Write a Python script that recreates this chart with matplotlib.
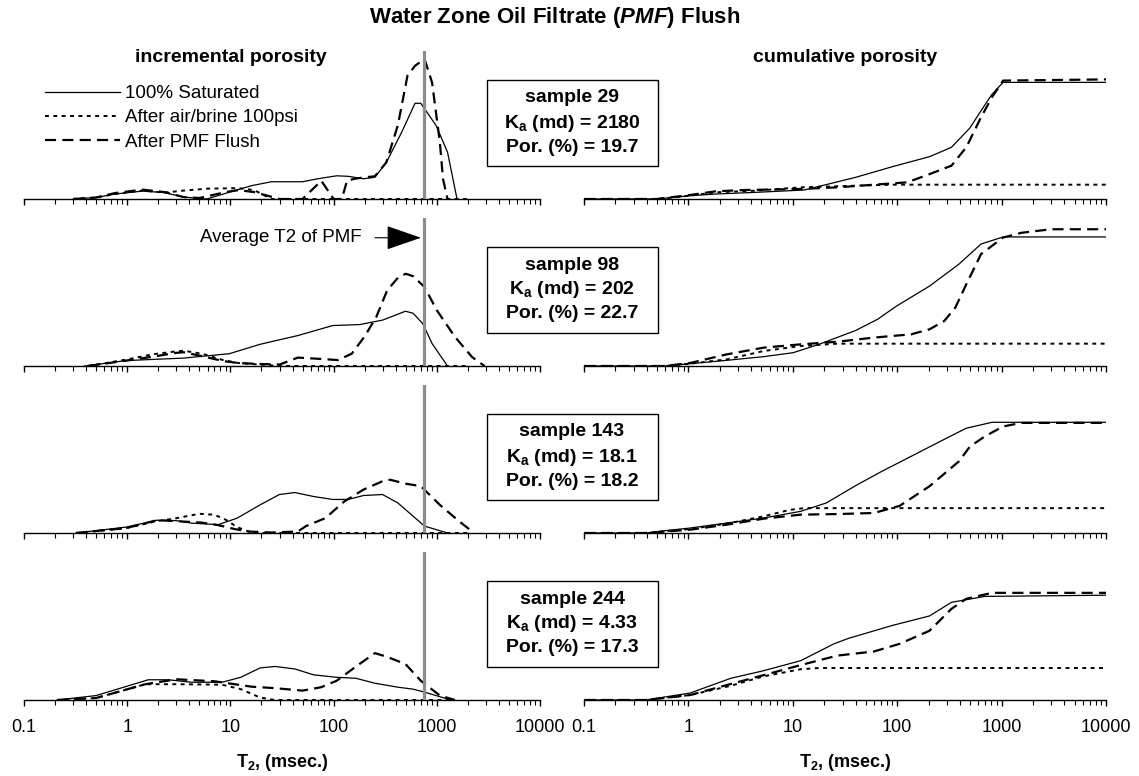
import matplotlib.pyplot as plt
import matplotlib.patches as patches
from matplotlib.ticker import LogLocator, FuncFormatter, NullFormatter

plt.rcParams['font.family'] = ['Liberation Sans', 'DejaVu Sans']
plt.rcParams['mathtext.fontset'] = 'custom'
plt.rcParams['mathtext.rm'] = 'Liberation Sans'
plt.rcParams['mathtext.it'] = 'Liberation Sans:italic'
plt.rcParams['mathtext.bf'] = 'Liberation Sans:bold'
plt.rcParams['mathtext.bfit'] = 'Liberation Sans:italic:bold'

# --- sample info ---
sample_ids = ['29', '98', '143', '244']
ka_md = ['2180', '202', '18.1', '4.33']
por_pct = ['19.7', '22.7', '18.2', '17.3']
avg_t2_pmf = 750

# --- incremental porosity (T2 in msec, p.u.) ---
s29_inc_sat_t = [0.3, 0.5, 0.76, 1.4, 2.3, 3.5, 5.9, 11, 16, 25, 50, 70, 107, 138, 195, 251, 324, 456, 615, 700, 984, 1270, 1570]
s29_inc_sat_v = [0, 0.03, 0.10, 0.16, 0.13, 0.04, 0.0, 0.17, 0.27, 0.35, 0.35, 0.41, 0.47, 0.46, 0.41, 0.44, 0.74, 1.35, 1.94, 1.94, 1.49, 0.95, 0]
s29_inc_air_t = [0.3, 0.5, 0.76, 1.4, 2.3, 3.5, 6, 12, 17, 25, 100, 1000, 2000]
s29_inc_air_v = [0, 0.03, 0.10, 0.17, 0.13, 0.17, 0.21, 0.22, 0.18, 0.0, 0, 0, 0]
s29_inc_pmf_t = [0.3, 0.5, 0.76, 1.4, 2.3, 3.5, 5, 9, 12, 17, 30, 50, 76, 100, 120, 135, 160, 200, 251, 324, 420, 520, 615, 760, 900, 1070, 1150, 1270]
s29_inc_pmf_v = [0, 0.03, 0.12, 0.19, 0.14, 0.04, 0.02, 0.14, 0.18, 0.14, 0, 0, 0.37, 0, 0, 0.37, 0.41, 0.44, 0.46, 0.74, 1.5, 2.5, 2.7, 2.84, 2.36, 1.15, 0.4, 0]

s98_inc_sat_t = [0.385, 0.98, 3.5, 7.0, 9.8, 19.4, 45.6, 98, 179, 298, 497, 589, 730, 903, 1270]
s98_inc_sat_v = [0, 0.11, 0.16, 0.22, 0.25, 0.44, 0.62, 0.82, 0.84, 0.93, 1.11, 1.07, 0.86, 0.45, 0]
s98_inc_air_t = [0.42, 0.98, 1.8, 2.8, 3.5, 5.3, 8.5, 12, 19, 30, 100, 1000, 2000]
s98_inc_air_v = [0, 0.13, 0.24, 0.29, 0.31, 0.25, 0.12, 0.06, 0.03, 0, 0, 0, 0]
s98_inc_pmf_t = [0.42, 0.98, 1.8, 2.8, 3.5, 5.3, 8.5, 12, 20, 30, 45, 80, 110, 150, 200, 260, 330, 420, 500, 590, 760, 1000, 1500, 2200, 2900]
s98_inc_pmf_v = [0, 0.11, 0.19, 0.26, 0.28, 0.2, 0.1, 0.06, 0.04, 0.03, 0.17, 0.14, 0.12, 0.25, 0.6, 1.0, 1.53, 1.79, 1.87, 1.82, 1.6, 1.13, 0.59, 0.18, 0]

s143_inc_sat_t = [0.32, 0.98, 1.95, 3.0, 4.2, 7.6, 11.6, 19.4, 29.8, 42, 64, 98, 138, 195, 298, 419, 590, 760, 1270]
s143_inc_sat_v = [0, 0.12, 0.26, 0.25, 0.2, 0.17, 0.30, 0.57, 0.78, 0.82, 0.74, 0.68, 0.68, 0.76, 0.78, 0.61, 0.34, 0.14, 0]
s143_inc_air_t = [0.32, 0.98, 1.95, 3.0, 5.0, 7.0, 9.0, 11.6, 15, 20, 100, 1000, 2000]
s143_inc_air_v = [0, 0.1, 0.24, 0.3, 0.39, 0.37, 0.27, 0.12, 0.03, 0, 0, 0, 0]
s143_inc_pmf_t = [0.32, 0.98, 1.95, 3.0, 5.3, 7.6, 11, 15, 25, 45, 54, 83, 127, 195, 298, 353, 497, 700, 1070, 1640, 2300]
s143_inc_pmf_v = [0, 0.1, 0.26, 0.24, 0.21, 0.16, 0.08, 0.03, 0.01, 0.03, 0.14, 0.30, 0.64, 0.88, 1.05, 1.08, 1.0, 0.95, 0.57, 0.24, 0]

s244_inc_sat_t = [0.21, 0.5, 1.6, 2.5, 4.2, 8.3, 12.6, 19.4, 27, 42, 64, 107, 165, 251, 419, 589, 760, 1270, 1400]
s244_inc_sat_v = [0, 0.09, 0.41, 0.41, 0.36, 0.36, 0.46, 0.65, 0.68, 0.63, 0.51, 0.46, 0.44, 0.34, 0.26, 0.22, 0.16, 0.02, 0]
s244_inc_air_t = [0.21, 0.5, 1.5, 3.0, 8.3, 12.6, 19.4, 27, 100, 1000, 1500]
s244_inc_air_v = [0, 0.04, 0.32, 0.32, 0.31, 0.22, 0.05, 0, 0, 0, 0]
s244_inc_pmf_t = [0.21, 0.5, 1.5, 3.0, 7, 16, 27, 50, 76, 107, 165, 251, 324, 497, 700, 1072, 1500]
s244_inc_pmf_v = [0, 0.04, 0.32, 0.42, 0.38, 0.27, 0.24, 0.19, 0.26, 0.39, 0.68, 0.95, 0.88, 0.73, 0.39, 0.09, 0]

# --- cumulative porosity (p.u.) ---
s29_cum_sat_t = [0.1, 0.5, 1.04, 1.83, 4.48, 12.9, 40, 90, 204, 331, 497, 635, 810, 1033, 10000]
s29_cum_sat_v = [0, 0, 0.56, 0.84, 1.13, 1.52, 3.66, 5.46, 7.15, 8.73, 12.0, 14.9, 17.7, 19.7, 19.7]
s29_cum_air_t = [0.1, 0.5, 1.04, 1.83, 4.48, 11.9, 40, 90, 10000]
s29_cum_air_v = [0, 0, 0.56, 1.13, 1.41, 1.97, 2.25, 2.42, 2.42]
s29_cum_pmf_t = [0.1, 0.5, 1.04, 1.83, 3.5, 11.9, 26.7, 125, 204, 331, 459, 635, 810, 1033, 10000]
s29_cum_pmf_v = [0, 0, 0.68, 1.3, 1.52, 1.69, 1.97, 2.82, 4.2, 5.63, 8.73, 13.8, 17.2, 20.0, 20.2]

s98_cum_sat_t = [0.1, 0.59, 1.04, 2.34, 5.26, 10.1, 17.8, 40, 65, 98, 204, 390, 635, 1033, 10000]
s98_cum_sat_v = [0, 0, 0.39, 0.96, 1.58, 2.25, 3.66, 6.0, 7.9, 10.1, 13.5, 17.2, 20.6, 21.8, 21.8]
s98_cum_air_t = [0.1, 0.59, 1.04, 2.34, 5.26, 11.9, 26.7, 60, 10000]
s98_cum_air_v = [0, 0, 0.39, 1.13, 2.53, 3.38, 3.77, 3.77, 3.77]
s98_cum_pmf_t = [0.1, 0.59, 1.04, 2.34, 5.26, 11.9, 26.7, 60, 136, 204, 282, 360, 459, 635, 1033, 1550, 2970, 10000]
s98_cum_pmf_v = [0, 0, 0.51, 1.97, 3.1, 3.66, 4.1, 4.8, 5.35, 6.2, 7.6, 9.85, 13.8, 18.9, 21.7, 22.5, 23.1, 23.1]

s143_cum_sat_t = [0.1, 0.39, 0.64, 1.04, 2.34, 5.26, 11.9, 20.9, 40, 71, 136, 260, 459, 810, 10000]
s143_cum_sat_v = [0, 0, 0.45, 0.84, 1.69, 2.53, 3.66, 5.07, 8.0, 10.4, 12.95, 15.5, 17.7, 18.7, 18.7]
s143_cum_air_t = [0.1, 0.39, 1.04, 2.34, 5.26, 9.3, 12.9, 10000]
s143_cum_air_v = [0, 0, 0.68, 1.58, 2.82, 3.9, 4.2, 4.2]
s143_cum_pmf_t = [0.1, 0.39, 1.04, 2.34, 5.26, 11.9, 26.7, 60, 106, 204, 390, 497, 689, 1033, 1550, 10000]
s143_cum_pmf_v = [0, 0, 0.56, 1.41, 2.42, 3.1, 3.2, 3.38, 4.6, 7.9, 12.1, 14.6, 16.3, 18.0, 18.6, 18.6]

s244_cum_sat_t = [0.1, 0.39, 1.04, 2.54, 5.26, 11.9, 24.6, 34, 90, 204, 331, 689, 10000]
s244_cum_sat_v = [0, 0, 1.18, 3.66, 4.95, 6.64, 9.46, 10.4, 12.6, 14.2, 16.5, 17.5, 17.7]
s244_cum_air_t = [0.1, 0.39, 1.04, 2.54, 5.26, 11.9, 17.8, 10000]
s244_cum_air_v = [0, 0, 0.84, 2.4, 4.0, 5.2, 5.4, 5.4]
s244_cum_pmf_t = [0.1, 0.39, 1.04, 2.54, 5.26, 11.9, 26.7, 60, 106, 204, 331, 459, 810, 10000]
s244_cum_pmf_v = [0, 0, 0.84, 2.7, 4.2, 5.9, 7.5, 8.2, 9.5, 11.7, 15.4, 17.1, 18.1, 18.1]

series_labels = ['100% Saturated', 'After air/brine 100psi', 'After PMF Flush']

inc_rows = [
    [(s29_inc_sat_t, s29_inc_sat_v), (s29_inc_air_t, s29_inc_air_v), (s29_inc_pmf_t, s29_inc_pmf_v)],
    [(s98_inc_sat_t, s98_inc_sat_v), (s98_inc_air_t, s98_inc_air_v), (s98_inc_pmf_t, s98_inc_pmf_v)],
    [(s143_inc_sat_t, s143_inc_sat_v), (s143_inc_air_t, s143_inc_air_v), (s143_inc_pmf_t, s143_inc_pmf_v)],
    [(s244_inc_sat_t, s244_inc_sat_v), (s244_inc_air_t, s244_inc_air_v), (s244_inc_pmf_t, s244_inc_pmf_v)],
]
cum_rows = [
    [(s29_cum_sat_t, s29_cum_sat_v), (s29_cum_air_t, s29_cum_air_v), (s29_cum_pmf_t, s29_cum_pmf_v)],
    [(s98_cum_sat_t, s98_cum_sat_v), (s98_cum_air_t, s98_cum_air_v), (s98_cum_pmf_t, s98_cum_pmf_v)],
    [(s143_cum_sat_t, s143_cum_sat_v), (s143_cum_air_t, s143_cum_air_v), (s143_cum_pmf_t, s143_cum_pmf_v)],
    [(s244_cum_sat_t, s244_cum_sat_v), (s244_cum_air_t, s244_cum_air_v), (s244_cum_pmf_t, s244_cum_pmf_v)],
]

# line styles: saturated / air-brine / PMF flush
styles = [
    dict(color='black', lw=0.9, ls='-'),
    dict(color='black', lw=1.4, ls=(0, (2.0, 2.3))),
    dict(color='black', lw=1.6, ls=(0, (5, 2.8))),
]

# --- layout (pixels) ---
W, H = 1139, 776
fig = plt.figure(figsize=(W / 100, H / 100), dpi=100)
baselines = [199, 366, 533, 700]
ax_h = 148
left_x0, left_x1 = 24, 540
right_x0, right_x1 = 584, 1106


def fx(px):
    return px / W


def fy(py):
    return 1 - py / H


def style_axis(ax, show_labels):
    ax.set_xscale('log')
    ax.set_xlim(0.1, 10000)
    for s in ['top', 'left', 'right']:
        ax.spines[s].set_visible(False)
    ax.spines['bottom'].set_linewidth(1.0)
    ax.set_yticks([])
    ax.xaxis.set_major_locator(LogLocator(base=10, numticks=10))
    ax.xaxis.set_minor_locator(LogLocator(base=10, subs=range(2, 10), numticks=20))
    ax.xaxis.set_minor_formatter(NullFormatter())
    ax.xaxis.set_major_formatter(FuncFormatter(lambda v, p: f'{v:g}'))
    ax.tick_params(axis='x', which='major', direction='out', length=4.5, width=1, labelsize=13, pad=9)
    ax.tick_params(axis='x', which='minor', direction='out', length=3.5, width=0.8)
    if not show_labels:
        ax.tick_params(axis='x', labelbottom=False)
    ax.patch.set_alpha(0)


handles = []
for i in range(4):
    b = baselines[i]
    axl = fig.add_axes([fx(left_x0), fy(b), fx(left_x1 - left_x0), ax_h / H])
    axr = fig.add_axes([fx(right_x0), fy(b), fx(right_x1 - right_x0), ax_h / H])
    for k, (t, v) in enumerate(inc_rows[i]):
        ln, = axl.plot(t, v, **styles[k])
        if i == 0:
            handles.append(ln)
    for k, (t, v) in enumerate(cum_rows[i]):
        axr.plot(t, v, **styles[k])
    axl.set_ylim(0, 3.0)
    axr.set_ylim(0, 25)
    axl.axvline(avg_t2_pmf, color='#8c8c8c', lw=2.3, zorder=3)
    style_axis(axl, i == 3)
    style_axis(axr, i == 3)
    if i == 3:
        axl.set_xlabel(r'$\mathbf{T_2}$, (msec.)', fontsize=13, fontweight='bold', labelpad=12)
        axr.set_xlabel(r'$\mathbf{T_2}$, (msec.)', fontsize=13, fontweight='bold', labelpad=12)
    if i == 1:
        axl.annotate('', xy=(703, 2.6), xytext=(252, 2.6),
                     arrowprops=dict(arrowstyle='-|>,head_length=1.6,head_width=0.55',
                                     mutation_scale=14, color='black', lw=0.8,
                                     shrinkA=0, shrinkB=0))
        axl.text(188, 2.6, 'Average T2 of PMF', ha='right', va='center', fontsize=13.5)

    # sample info box
    box_top = b - 119
    rect = patches.Rectangle((fx(487), fy(b - 33)), fx(171), 86 / H, transform=fig.transFigure,
                             facecolor='white', edgecolor='black', lw=1.0, zorder=5)
    fig.add_artist(rect)
    cx = fx(572)
    fig.text(cx, fy(box_top + 18), f'sample {sample_ids[i]}', ha='center', va='center',
             fontsize=14, fontweight='bold', zorder=6)
    fig.text(cx, fy(box_top + 43), r'$\mathbf{K_a}$ (md) = ' + ka_md[i], ha='center', va='center',
             fontsize=14, fontweight='bold', zorder=6)
    fig.text(cx, fy(box_top + 67), f'Por. (%) = {por_pct[i]}', ha='center', va='center',
             fontsize=14, fontweight='bold', zorder=6)

fig.legend(handles, series_labels, loc='upper left', bbox_to_anchor=(fx(45), fy(85)),
           frameon=False, fontsize=13.5, handlelength=4.0, handletextpad=0.25,
           labelspacing=0.38, borderpad=0, borderaxespad=0)

fig.text(fx(555), fy(18), r'Water Zone Oil Filtrate ($\mathbfit{PMF}$) Flush', ha='center', va='center',
         fontsize=16, fontweight='bold')
fig.text(fx(231), fy(57), 'incremental porosity', ha='center', va='center', fontsize=14, fontweight='bold')
fig.text(fx(845), fy(57), 'cumulative porosity', ha='center', va='center', fontsize=14, fontweight='bold')

fig.savefig('out.png', dpi=100)
